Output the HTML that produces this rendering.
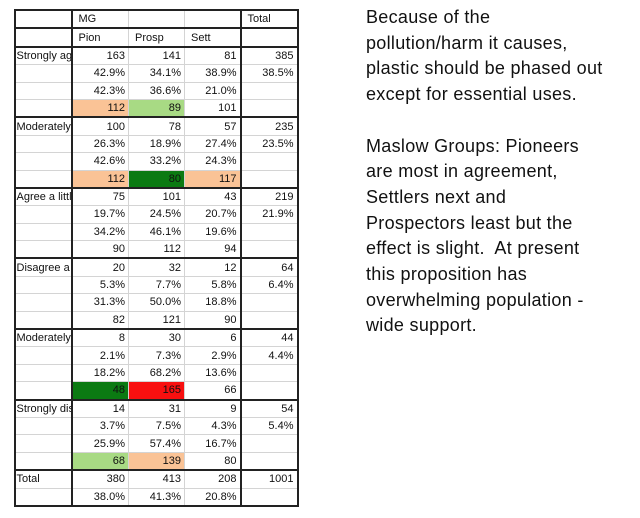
<!DOCTYPE html>
<html><head><style>
body{margin:0;width:640px;height:518px;background:#fff;position:relative;overflow:hidden;font-family:"Liberation Sans",Arial,sans-serif}
table{position:absolute;left:13.5px;top:9px;width:285px;border-collapse:collapse;table-layout:fixed;font-size:11px;color:#111}
td{height:16.4px;padding:0 3px;border:1px solid #d4d4d4;text-align:right;white-space:nowrap;overflow:hidden;line-height:16px}
td.l{text-align:left;border-right:2px solid #222;padding:0 1px}
td.t{border-left:2px solid #222}
tr.b td{border-bottom:2px solid #222}
tr.h td{text-align:left;padding-left:6px}
.p{background:#fac396}.g{background:#a8da84}.dg{background:#0b7a12}.r{background:#f81010}
.txt{position:absolute;left:366px;top:5px;font-size:18px;letter-spacing:0.3px;line-height:25.7px;color:#111}
</style></head><body>
<table style="border:2px solid #222">
<colgroup><col style="width:57px"><col style="width:57px"><col style="width:56px"><col style="width:56px"><col style="width:57px"></colgroup>
<tr class="h b"><td class="l"></td><td>MG</td><td></td><td></td><td class="t">Total</td></tr>
<tr class="h b"><td class="l"></td><td>Pion</td><td>Prosp</td><td>Sett</td><td class="t"></td></tr>
<tr><td class="l">Strongly ag</td><td>163</td><td>141</td><td>81</td><td class="t">385</td></tr>
<tr><td class="l"></td><td>42.9%</td><td>34.1%</td><td>38.9%</td><td class="t">38.5%</td></tr>
<tr><td class="l"></td><td>42.3%</td><td>36.6%</td><td>21.0%</td><td class="t"></td></tr>
<tr class="b"><td class="l"></td><td class="p">112</td><td class="g">89</td><td>101</td><td class="t"></td></tr>
<tr><td class="l">Moderately</td><td>100</td><td>78</td><td>57</td><td class="t">235</td></tr>
<tr><td class="l"></td><td>26.3%</td><td>18.9%</td><td>27.4%</td><td class="t">23.5%</td></tr>
<tr><td class="l"></td><td>42.6%</td><td>33.2%</td><td>24.3%</td><td class="t"></td></tr>
<tr class="b"><td class="l"></td><td class="p">112</td><td class="dg">80</td><td class="p">117</td><td class="t"></td></tr>
<tr><td class="l">Agree a littl</td><td>75</td><td>101</td><td>43</td><td class="t">219</td></tr>
<tr><td class="l"></td><td>19.7%</td><td>24.5%</td><td>20.7%</td><td class="t">21.9%</td></tr>
<tr><td class="l"></td><td>34.2%</td><td>46.1%</td><td>19.6%</td><td class="t"></td></tr>
<tr class="b"><td class="l"></td><td>90</td><td>112</td><td>94</td><td class="t"></td></tr>
<tr><td class="l">Disagree a</td><td>20</td><td>32</td><td>12</td><td class="t">64</td></tr>
<tr><td class="l"></td><td>5.3%</td><td>7.7%</td><td>5.8%</td><td class="t">6.4%</td></tr>
<tr><td class="l"></td><td>31.3%</td><td>50.0%</td><td>18.8%</td><td class="t"></td></tr>
<tr class="b"><td class="l"></td><td>82</td><td>121</td><td>90</td><td class="t"></td></tr>
<tr><td class="l">Moderately</td><td>8</td><td>30</td><td>6</td><td class="t">44</td></tr>
<tr><td class="l"></td><td>2.1%</td><td>7.3%</td><td>2.9%</td><td class="t">4.4%</td></tr>
<tr><td class="l"></td><td>18.2%</td><td>68.2%</td><td>13.6%</td><td class="t"></td></tr>
<tr class="b"><td class="l"></td><td class="dg">48</td><td class="r">165</td><td>66</td><td class="t"></td></tr>
<tr><td class="l">Strongly dis</td><td>14</td><td>31</td><td>9</td><td class="t">54</td></tr>
<tr><td class="l"></td><td>3.7%</td><td>7.5%</td><td>4.3%</td><td class="t">5.4%</td></tr>
<tr><td class="l"></td><td>25.9%</td><td>57.4%</td><td>16.7%</td><td class="t"></td></tr>
<tr class="b"><td class="l"></td><td class="g">68</td><td class="p">139</td><td>80</td><td class="t"></td></tr>
<tr><td class="l">Total</td><td>380</td><td>413</td><td>208</td><td class="t">1001</td></tr>
<tr><td class="l"></td><td>38.0%</td><td>41.3%</td><td>20.8%</td><td class="t"></td></tr>
</table>
<div class="txt">Because of the<br>pollution/harm it causes,<br>plastic should be phased out<br>except for essential uses.<br><br>Maslow Groups: Pioneers<br>are most in agreement,<br>Settlers next and<br>Prospectors least but the<br>effect is slight.&nbsp; At present<br>this proposition has<br>overwhelming population -<br>wide support.</div>
</body></html>
